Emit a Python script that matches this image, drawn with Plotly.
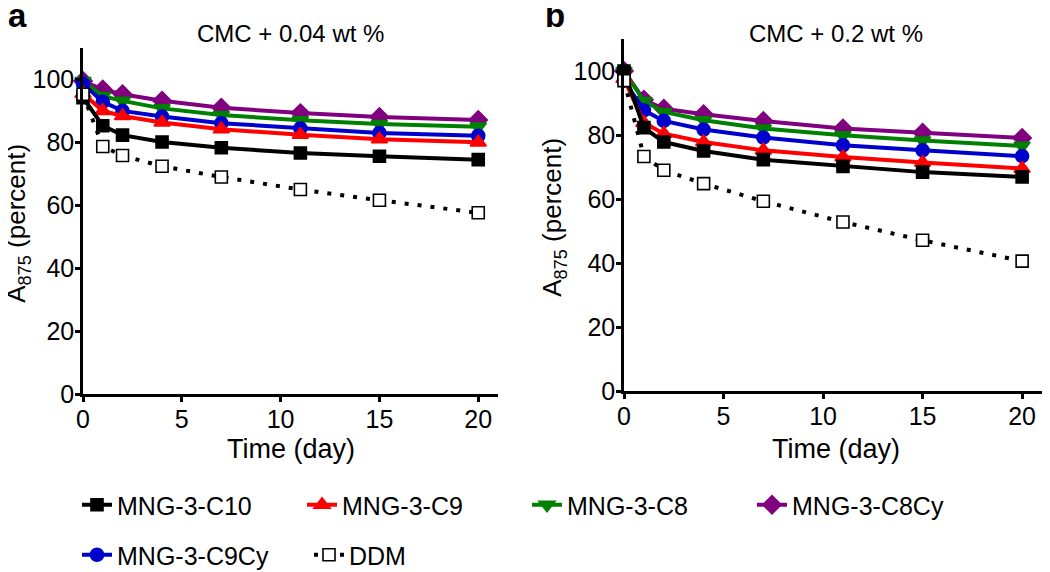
import plotly.graph_objects as go

days = [0, 1, 2, 4, 7, 11, 15, 20]
series_names = ["MNG-3-C10", "MNG-3-C9", "MNG-3-C8", "MNG-3-C8Cy", "MNG-3-C9Cy", "DDM"]

# Panel a: CMC + 0.04 wt %
a_C10 = [94.2, 85.3, 82.3, 80.1, 78.3, 76.6, 75.6, 74.5]
a_C9 = [95.5, 90.0, 88.4, 86.3, 84.2, 82.4, 81.0, 80.0]
a_C8 = [99.5, 94.7, 93.2, 90.8, 88.7, 87.0, 85.8, 85.0]
a_C8Cy = [99.5, 96.8, 95.3, 93.2, 91.0, 89.3, 88.1, 87.1]
a_C9Cy = [98.6, 92.9, 90.0, 88.2, 86.1, 84.4, 83.0, 82.1]
a_DDM = [95.3, 78.7, 75.8, 72.4, 69.0, 65.0, 61.6, 57.6]

# Panel b: CMC + 0.2 wt %
b_C10 = [100.0, 82.3, 77.8, 75.0, 72.3, 70.2, 68.4, 66.9]
b_C9 = [97.6, 83.8, 80.4, 77.8, 75.2, 73.1, 71.4, 69.5]
b_C8 = [100.0, 90.6, 87.2, 84.6, 82.0, 79.9, 78.3, 76.6]
b_C8Cy = [100.0, 91.0, 88.2, 86.5, 84.4, 82.0, 80.7, 79.1]
b_C9Cy = [97.0, 87.7, 84.4, 81.7, 79.2, 76.8, 75.2, 73.4]
b_DDM = [97.0, 73.3, 69.0, 64.8, 59.3, 52.8, 47.1, 40.6]

panel_titles = ["CMC + 0.04 wt %", "CMC + 0.2 wt %"]
panel_letters = ["a", "b"]
x_title = "Time (day)"
y_title = "A<sub>875</sub> (percent)"
x_ticks = [0, 5, 10, 15, 20]
y_ticks = [0, 20, 40, 60, 80, 100]

FONT = "Arial, Liberation Sans, sans-serif"
W, H = 1050, 572
OFF = 8  # page body margin in the browser


def px(v):
    return (v - OFF) / W


def py(v):
    return 1 - (v - OFF) / H


styles = {
    "MNG-3-C10": dict(color="black", symbol="square", size=12, dash="solid", rank=1, legend="legend"),
    "MNG-3-C9": dict(color="#ff0000", symbol="triangle-up", size=14, dash="solid", rank=2, legend="legend"),
    "MNG-3-C8": dict(color="#008000", symbol="triangle-down", size=14, dash="solid", rank=3, legend="legend"),
    "MNG-3-C8Cy": dict(color="#800080", symbol="diamond", size=14, dash="solid", rank=4, legend="legend"),
    "MNG-3-C9Cy": dict(color="#0000cc", symbol="circle", size=13, dash="solid", rank=5, legend="legend2"),
    "DDM": dict(color="black", symbol="square", size=12, dash="4px,9px", rank=6, legend="legend2"),
}

panels = [
    {"MNG-3-C10": a_C10, "MNG-3-C9": a_C9, "MNG-3-C8": a_C8,
     "MNG-3-C8Cy": a_C8Cy, "MNG-3-C9Cy": a_C9Cy, "DDM": a_DDM},
    {"MNG-3-C10": b_C10, "MNG-3-C9": b_C9, "MNG-3-C8": b_C8,
     "MNG-3-C8Cy": b_C8Cy, "MNG-3-C9Cy": b_C9Cy, "DDM": b_DDM},
]

draw_order = ["MNG-3-C8Cy", "MNG-3-C8", "MNG-3-C9Cy", "MNG-3-C9", "MNG-3-C10", "DDM"]

fig = go.Figure()
for pi, data in enumerate(panels):
    xa = "x" if pi == 0 else "x2"
    ya = "y" if pi == 0 else "y2"
    for name in draw_order:
        s = styles[name]
        is_ddm = name == "DDM"
        fig.add_trace(go.Scatter(
            x=days, y=data[name], mode="lines+markers", name=name,
            xaxis=xa, yaxis=ya, cliponaxis=False,
            showlegend=(pi == 0), legendrank=s["rank"], legend=s["legend"],
            line=dict(color=s["color"], width=4, dash=s["dash"]),
            marker=dict(symbol=s["symbol"], size=s["size"],
                        color="white" if is_ddm else s["color"],
                        line=dict(color="black" if is_ddm else s["color"], width=1.6)),
        ))

axis_common = dict(
    showline=True, linecolor="black", linewidth=2.5, ticks="outside",
    ticklen=5, tickwidth=2.5, tickcolor="black", showgrid=False, zeroline=False,
    tickfont=dict(family=FONT, size=25, color="black"), mirror=False, automargin=False,
    ticklabelstandoff=-4,
)

dom_a_x = [px(83), px(498)]
dom_b_x = [px(624), px(1047)]
dom_a_y = [py(394), py(48)]
dom_b_y = [py(391), py(39)]

legend_common = dict(orientation="h", xanchor="left", yanchor="middle",
                     font=dict(family=FONT, size=25, color="black"),
                     entrywidthmode="pixels", itemwidth=30,
                     bgcolor="rgba(0,0,0,0)", borderwidth=0)

fig.update_layout(
    width=W, height=H, margin=dict(l=0, r=0, t=0, b=0),
    template="none",
    paper_bgcolor="white", plot_bgcolor="white",
    font=dict(family=FONT, color="black"),
    xaxis=dict(domain=dom_a_x, range=[0, 21], tickvals=x_ticks, anchor="y", **axis_common),
    yaxis=dict(domain=dom_a_y, range=[0, 110], tickvals=y_ticks, anchor="x", **axis_common),
    xaxis2=dict(domain=dom_b_x, range=[0, 21.25], tickvals=x_ticks, anchor="y2", **axis_common),
    yaxis2=dict(domain=dom_b_y, range=[0, 110], tickvals=y_ticks, anchor="x2", **axis_common),
    legend=dict(x=px(83 - 6), y=py(505), entrywidth=180, **legend_common),
    legend2=dict(x=px(83 - 6), y=py(555), entrywidth=187, **legend_common),
)

for dx, dy, title, letter, ytx, letter_x in [
    (dom_a_x, dom_a_y, panel_titles[0], panel_letters[0], 18, 6),
    (dom_b_x, dom_b_y, panel_titles[1], panel_letters[1], 554, 543),
]:
    cx = (dx[0] + dx[1]) / 2
    fig.add_annotation(text=title, xref="paper", yref="paper", x=cx, y=py(34),
                       xanchor="center", yanchor="middle",
                       showarrow=False, font=dict(family=FONT, size=24, color="black"))
    fig.add_annotation(text=x_title, xref="paper", yref="paper", x=cx, y=py(449),
                       xanchor="center", yanchor="middle",
                       showarrow=False, font=dict(family=FONT, size=27, color="black"))
    fig.add_annotation(text=y_title, xref="paper", yref="paper", x=px(ytx),
                       y=(dy[0] + dy[1]) / 2 - 0.005, textangle=-90,
                       xanchor="center", yanchor="middle",
                       showarrow=False, font=dict(family=FONT, size=26, color="black"))
    fig.add_annotation(text="<b>" + letter + "</b>", xref="paper", yref="paper",
                       x=px(letter_x), y=py(-5), xanchor="left", yanchor="top",
                       showarrow=False, font=dict(family=FONT, size=33, color="black"))

fig.write_html("out.html", config={"displayModeBar": False})
